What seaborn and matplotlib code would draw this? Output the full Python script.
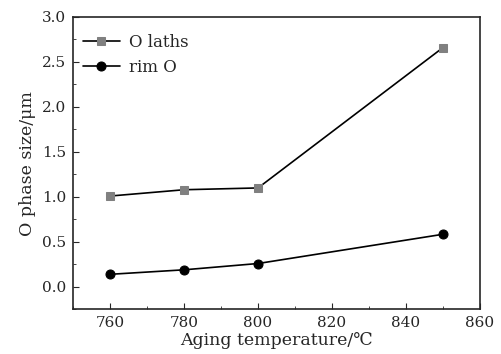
import numpy as np
import pandas as pd
import seaborn as sns
import matplotlib
matplotlib.use('Agg')
import matplotlib.pyplot as plt
from matplotlib.ticker import MultipleLocator

# data
temps = [760, 780, 800, 850]
o_laths = [1.01, 1.08, 1.10, 2.66]
rim_o = [0.14, 0.19, 0.26, 0.585]

sns.set_style('ticks')
plt.rcParams['font.family'] = ['DejaVu Serif']
plt.rcParams['xtick.direction'] = 'in'
plt.rcParams['ytick.direction'] = 'in'

fig = plt.figure(figsize=(5.01, 3.54), dpi=100)
ax = fig.add_axes([0.146, 0.126, 0.812, 0.826])

sns.lineplot(x=temps, y=o_laths, ax=ax, color='black', lw=1.2, marker='s',
             markersize=5.5, markerfacecolor='#808080', markeredgecolor='#808080',
             label='O laths')
sns.lineplot(x=temps, y=rim_o, ax=ax, color='black', lw=1.2, marker='o',
             markersize=6.5, markerfacecolor='black', markeredgecolor='black',
             label='rim O')

ax.set_xlim(750, 860)
ax.set_ylim(-0.25, 3.0)
ax.xaxis.set_major_locator(MultipleLocator(20))
ax.xaxis.set_minor_locator(MultipleLocator(10))
ax.yaxis.set_major_locator(MultipleLocator(0.5))
ax.yaxis.set_minor_locator(MultipleLocator(0.25))
ax.yaxis.set_major_formatter(matplotlib.ticker.FormatStrFormatter('%.1f'))
ax.tick_params(which='major', length=4, labelsize=11, pad=5)
ax.tick_params(which='minor', length=2)
for s in ax.spines.values():
    s.set_linewidth(1.2)

ax.set_xlabel('Aging temperature/℃', fontsize=12.5, labelpad=1)
ax.set_ylabel('O phase size/μm', fontsize=12.5, labelpad=4)

leg = ax.legend(loc='upper left', bbox_to_anchor=(0.008, 0.965), borderaxespad=0,
                frameon=False, fontsize=12, handlelength=2.2,
                handletextpad=0.55, labelspacing=0.5)
for h in leg.legend_handles:
    h.set_color('black')
leg.legend_handles[0].set_markerfacecolor('#808080')
leg.legend_handles[0].set_markeredgecolor('#808080')

fig.savefig('out.png', dpi=100)
